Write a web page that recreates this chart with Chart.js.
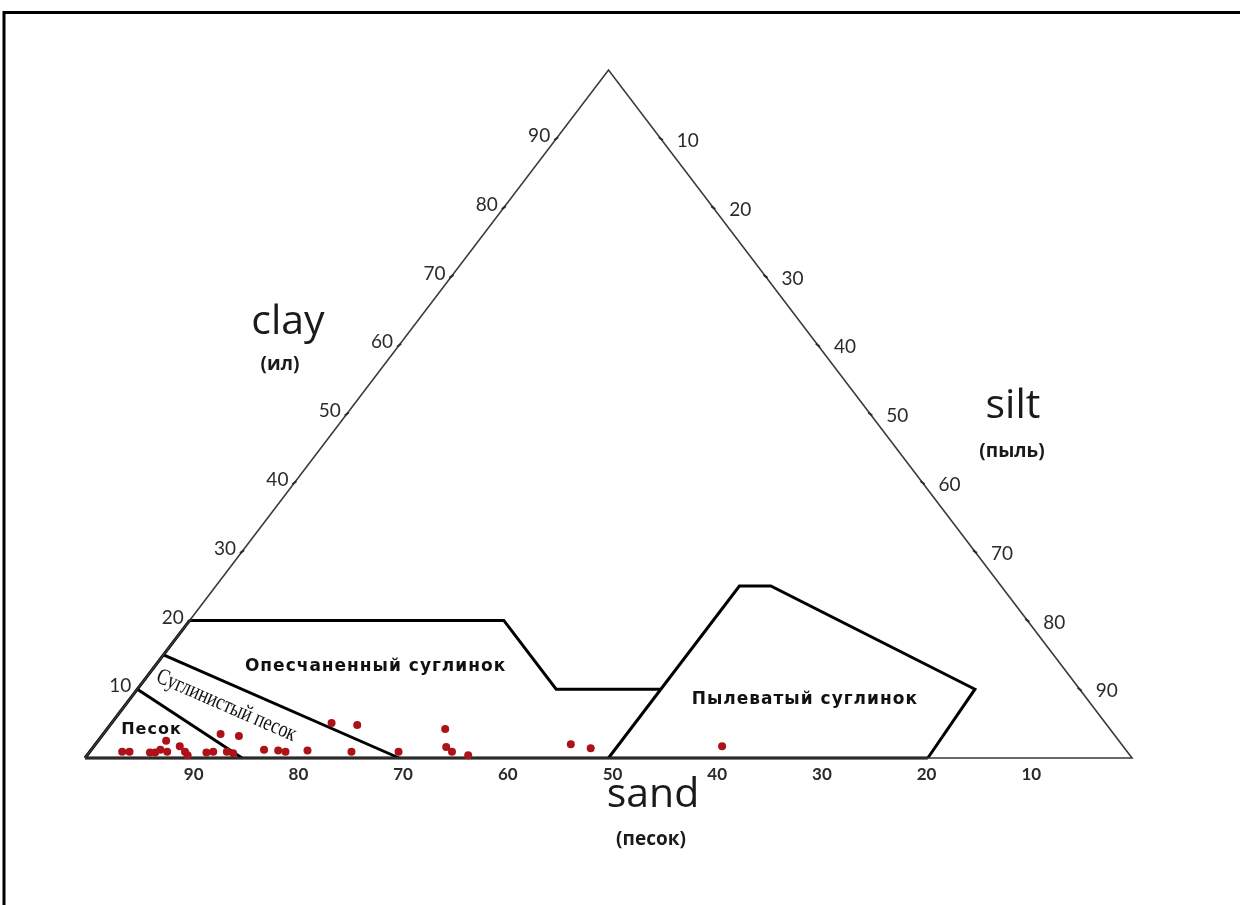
<!DOCTYPE html>
<html>
<head>
<meta charset="utf-8">
<script src="https://cdn.jsdelivr.net/npm/chart.js@4/dist/chart.umd.min.js"></script>
<style>
  html, body { margin: 0; padding: 0; background: #fff; }
  #wrap { position: relative; width: 1240px; height: 905px; }
  canvas { display: block; }
</style>
</head>
<body>
<div id="wrap"><canvas id="tri" width="1240" height="905"></canvas></div>
<script>
// Soil samples: sand and clay percentages (silt = 100 - sand - clay)
const sampleSand = [96.0, 95.3, 93.4, 92.9, 92.2, 91.0, 91.7, 90.1, 90.0, 90.0,
                    88.0, 87.3, 85.3, 86.0, 85.5, 83.7, 82.3, 81.0, 80.4, 78.2,
                    73.9, 71.6, 74.1, 69.6, 63.5, 64.7, 64.5, 63.2, 52.6, 51.0, 38.3];
const sampleClay = [0.9, 0.9, 0.8, 0.8, 1.2, 2.5, 0.9, 1.7, 0.9, 0.4,
                    0.8, 0.9, 3.5, 0.9, 0.7, 3.2, 1.2, 1.1, 0.9, 1.1,
                    5.1, 4.8, 0.9, 0.9, 4.2, 1.6, 0.9, 0.4, 2.0, 1.4, 1.7];

// Texture class boundaries, as (sand %, clay %) vertices
const sandBorderSand = [90, 85];
const sandBorderClay = [10, 0];
const loamySandBorderSand = [85, 70];
const loamySandBorderClay = [15, 0];
const sandyLoamBorderSand = [80, 50, 50, 40];
const sandyLoamBorderClay = [20, 20, 10, 10];
const siltLoamBorderSand = [50, 25, 22, 10, 19.5];
const siltLoamBorderClay = [0, 25, 25, 10, 0];
const baseEdgeSand = [100, 19.5];
const baseEdgeClay = [0, 0];
const leftEdgeSand = [100, 80];
const leftEdgeClay = [0, 20];

// Outer triangle: bottom-left (sand 100), bottom-right (silt 100), apex (clay 100)
const triangleSand = [100, 0, 0, 100];
const triangleClay = [0, 0, 100, 0];

// Axis tick labels
const sandTicks = [90, 80, 70, 60, 50, 40, 30, 20, 10];
const clayTicks = [10, 20, 30, 40, 50, 60, 70, 80, 90];
const siltTicks = [10, 20, 30, 40, 50, 60, 70, 80, 90];

// Texture class names
const classNames = ['Песок', 'Суглинистый песок', 'Опесчаненный суглинок', 'Пылеватый суглинок'];

// Ternary (sand, clay) -> plane: x runs from sand corner (0) to silt corner (100)
function toXY(sand, clay) {
  return { x: 100 - sand - clay / 2, y: clay };
}
function pts(sand, clay) {
  return sand.map((s, i) => toXY(s, clay[i]));
}

function border(sand, clay, width, color) {
  return {
    type: 'scatter',
    data: pts(sand, clay),
    showLine: true,
    borderColor: color,
    borderWidth: width,
    pointRadius: 0,
    fill: false,
    clip: false,
    borderJoinStyle: 'miter',
    order: 1
  };
}

// Where each class name sits inside its zone (ternary coords) and how it is set
const classLabelLayout = [
  { sand: 91.6, clay: 4.1, font: 'bold 16px "DejaVu Sans", sans-serif', spacing: '1px', rot: 0, sx: 1 },
  { sand: 82.7, clay: 7.6, font: '23px "Liberation Serif", serif', spacing: '0px', rot: 0.41, sx: 0.78 },
  { sand: 65.6, clay: 13.3, font: 'bold 17px "DejaVu Sans", sans-serif', spacing: '1px', rot: 0, sx: 1 },
  { sand: 27.0, clay: 8.5, font: 'bold 17px "DejaVu Sans", sans-serif', spacing: '1px', rot: 0, sx: 1 }
];

const decorPlugin = {
  id: 'ternaryDecor',
  beforeDraw(chart) {
    const c = chart.ctx;
    c.save();
    c.fillStyle = '#fff';
    c.fillRect(0, 0, chart.width, chart.height);
    // frame
    c.strokeStyle = '#000';
    c.lineWidth = 3;
    c.beginPath();
    c.moveTo(4, 905);
    c.lineTo(4, 12.5);
    c.lineTo(1240, 12.5);
    c.stroke();
    c.restore();
  },
  afterDatasetsDraw(chart) {
    const c = chart.ctx;
    const xs = chart.scales.x, ys = chart.scales.y;
    const P = (s, cl) => { const p = toXY(s, cl); return [xs.getPixelForValue(p.x), ys.getPixelForValue(p.y)]; };
    c.save();
    c.fillStyle = '#2b2b2b';
    c.strokeStyle = '#2b2b2b';
    c.lineWidth = 2;
    c.font = '19px Lato, "Open Sans", sans-serif';
    c.textBaseline = 'middle';

    // clay axis (left side)
    c.textAlign = 'right';
    clayTicks.forEach(v => {
      const [px, py] = P(100 - v, v);
      c.beginPath(); c.moveTo(px - 2, py + 1.5); c.lineTo(px + 2, py - 1.5); c.stroke();
      c.fillText(String(v), px - 6, py - 3);
    });
    // silt axis (right side)
    c.textAlign = 'left';
    siltTicks.forEach(v => {
      const [px, py] = P(0, 100 - v);
      c.beginPath(); c.moveTo(px - 2, py - 1.5); c.lineTo(px + 2, py + 1.5); c.stroke();
      c.fillText(String(v), px + 16, py + 2);
    });
    // sand axis (bottom)
    c.textAlign = 'center';
    c.font = 'bold 17px Lato, "Open Sans", sans-serif';
    sandTicks.forEach(v => {
      const [px, py] = P(v, 0);
      c.fillText(String(v), px + 4, py + 17);
    });

    // axis titles
    c.fillStyle = '#1a1a1a';
    c.font = '41px "Open Sans", sans-serif';
    c.textAlign = 'center';
    c.textBaseline = 'alphabetic';
    c.fillText('clay', 288, 334);
    c.fillText('silt', 1013, 418);
    c.fillText('sand', 653, 807);
    c.font = 'bold 19px "Open Sans", sans-serif';
    c.fillText('(ил)', 280, 370);
    c.fillText('(пыль)', 1012, 457);
    c.fillText('(песок)', 651, 845);

    // texture class names
    c.fillStyle = '#111';
    c.textBaseline = 'middle';
    c.textAlign = 'center';
    classLabelLayout.forEach((L, i) => {
      const [px, py] = P(L.sand, L.clay);
      c.save();
      c.translate(px, py);
      c.rotate(L.rot);
      c.scale(L.sx, 1);
      c.font = L.font;
      c.letterSpacing = L.spacing;
      c.fillText(classNames[i], 0, 0);
      c.restore();
    });
    c.restore();
  }
};

new Chart(document.getElementById('tri'), {
  type: 'scatter',
  data: {
    datasets: [
      border(triangleSand, triangleClay, 1.6, '#3a3a3a'),
      border(baseEdgeSand, baseEdgeClay, 3, '#000'),
      border(leftEdgeSand, leftEdgeClay, 3, '#000'),
      border(sandBorderSand, sandBorderClay, 3, '#000'),
      border(loamySandBorderSand, loamySandBorderClay, 3, '#000'),
      border(sandyLoamBorderSand, sandyLoamBorderClay, 3, '#000'),
      border(siltLoamBorderSand, siltLoamBorderClay, 3, '#000'),
      {
        type: 'scatter',
        data: pts(sampleSand, sampleClay),
        pointRadius: 4,
        pointBackgroundColor: '#ad1219',
        pointBorderWidth: 0,
        clip: false,
        order: 0
      }
    ]
  },
  options: {
    responsive: false,
    devicePixelRatio: 1,
    animation: false,
    layout: { padding: { left: 85, right: 108, top: 70, bottom: 147 } },
    scales: {
      x: { type: 'linear', min: 0, max: 100, display: false },
      y: { type: 'linear', min: 0, max: 100, display: false }
    },
    plugins: { legend: { display: false }, tooltip: { enabled: false } }
  },
  plugins: [decorPlugin]
});
</script>
</body>
</html>
